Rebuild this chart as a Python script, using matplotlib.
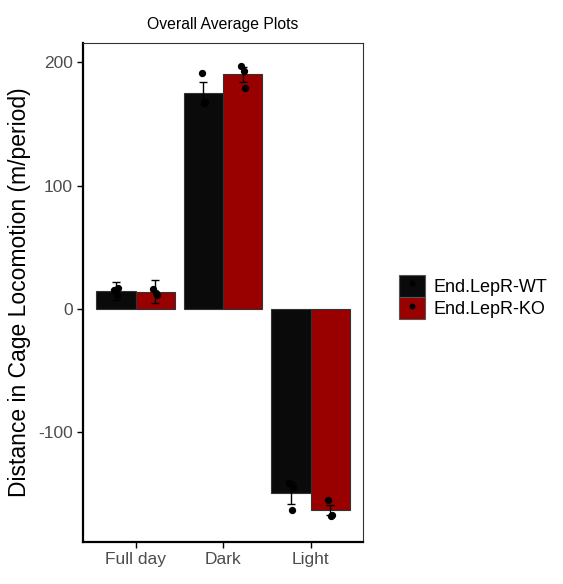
import matplotlib
matplotlib.use("Agg")
import matplotlib.pyplot as plt
from matplotlib.patches import Patch
from matplotlib.lines import Line2D
import numpy as np

plt.rcParams['font.family'] = ['Liberation Sans', 'DejaVu Sans']
plt.rcParams['axes.unicode_minus'] = False

categories = ["Full day", "Dark", "Light"]
groups = ["End.LepR-WT", "End.LepR-KO"]
colors = ["#0a0a0a", "#990000"]

means = {
    "End.LepR-WT": [14.5, 175.0, -149.0],
    "End.LepR-KO": [14.0, 190.0, -163.0],
}
sems = {
    "End.LepR-WT": [7.5, 9.0, 9.0],
    "End.LepR-KO": [9.5, 6.0, 4.0],
}
points = {
    "End.LepR-WT": [[15, 11, 17], [191, 167, 168], [-141, -163, -144]],
    "End.LepR-KO": [[16, 13, 11], [197, 193, 179], [-155, -168, -167]],
}

fig = plt.figure(figsize=(5.63, 5.84), dpi=100)
ax = fig.add_axes([83/563, 1 - 542/584, 280/563, 499/584])

x = np.arange(1, len(categories) + 1)
width = 0.45
offsets = [-width/2, width/2]
jit = [-0.02, 0.01, 0.025]
for g, col, off in zip(groups, colors, offsets):
    xs = x + off
    ax.bar(xs, means[g], width=width, color=col, edgecolor="#333333", linewidth=0.8, zorder=2)
    ax.errorbar(xs, means[g], yerr=sems[g], fmt="none", ecolor="black", elinewidth=1.0,
                capsize=2.8, capthick=1.0, zorder=3)
    for xi, pts in zip(xs, points[g]):
        ax.scatter(xi + np.array(jit[:len(pts)]), pts, s=18, color="black", zorder=4)

ax.set_xlim(0.4, 3.6)
ax.set_ylim(-188.7, 215.4)
ax.set_xticks(x)
ax.set_xticklabels(categories)
ax.set_yticks([-100, 0, 100, 200])
ax.tick_params(axis="both", labelsize=12.5, colors="black", length=4, width=1, labelcolor="#4d4d4d")

for s in ["left", "bottom"]:
    ax.spines[s].set_color("black")
    ax.spines[s].set_linewidth(1.6)
for s in ["top", "right"]:
    ax.spines[s].set_color("#333333")
    ax.spines[s].set_linewidth(0.8)

ax.set_ylabel("Distance in Cage Locomotion (m/period)", fontsize=16.5, color="black", labelpad=5)
ax.set_title("Overall Average Plots", fontsize=11.3, pad=10)

handles = [Patch(facecolor=c, edgecolor="#555555", linewidth=0.8) for c in colors]
dots = [Line2D([], [], marker="o", color="black", linestyle="none", markersize=3.2) for _ in colors]
leg = fig.legend(handles=[(h, d) for h, d in zip(handles, dots)], labels=groups,
                 loc="center left", bbox_to_anchor=(399/563, 1 - 297/584),
                 frameon=False, fontsize=13, handlelength=1.45, handleheight=1.45,
                 handletextpad=0.45, labelspacing=0.05, borderpad=0, borderaxespad=0)

fig.savefig("out.png", dpi=100)
